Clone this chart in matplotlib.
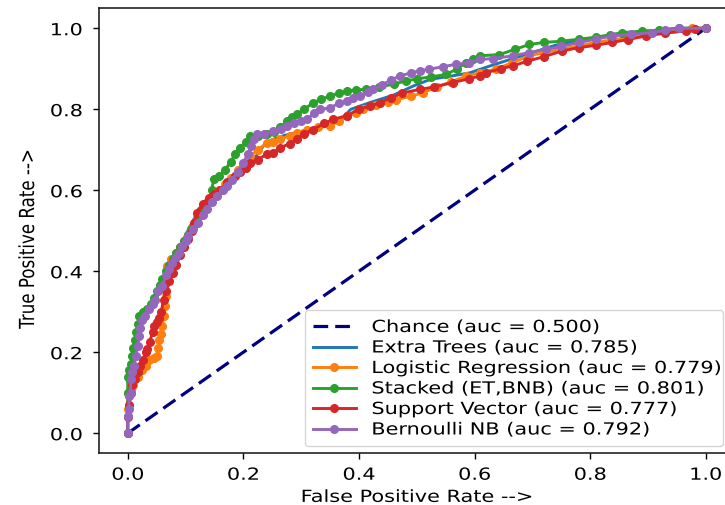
import matplotlib
matplotlib.use("Agg")
import matplotlib.pyplot as plt
from matplotlib.patheffects import AbstractPathEffect
from matplotlib.transforms import Affine2D

# ---------------- data ----------------
chance_fpr = [0.0, 1.0]
chance_tpr = [0.0, 1.0]

et_fpr = [0, 0, 0.003, 0.006, 0.01, 0.015, 0.022, 0.03, 0.04, 0.05, 0.058, 0.066, 0.075, 0.085, 0.095, 0.1,
          0.108, 0.115, 0.122, 0.135, 0.15, 0.16, 0.172, 0.19, 0.207, 0.22, 0.235, 0.25, 0.27, 0.3, 0.33, 0.355,
          0.368, 0.386, 0.42, 0.46, 0.495, 0.524, 0.56, 0.592, 0.627, 0.666, 0.7, 0.74, 0.781, 0.82, 0.86, 0.9,
          0.95, 1.0]
et_tpr = [0, 0.08, 0.12, 0.16, 0.2, 0.24, 0.27, 0.29, 0.31, 0.335, 0.36, 0.39, 0.42, 0.445, 0.47, 0.49,
          0.51, 0.53, 0.553, 0.57, 0.59, 0.6, 0.611, 0.635, 0.652, 0.68, 0.71, 0.725, 0.735, 0.745, 0.755, 0.765,
          0.773, 0.8, 0.817, 0.835, 0.858, 0.874, 0.882, 0.89, 0.907, 0.925, 0.94, 0.958, 0.97, 0.978, 0.986, 0.993,
          1.0, 1.0]

lr_fpr = [0, 0, 0, 0.005, 0.01, 0.018, 0.025, 0.031, 0.036, 0.045, 0.051, 0.053, 0.054, 0.057, 0.06, 0.062,
          0.064, 0.066, 0.067, 0.068, 0.075, 0.083, 0.09, 0.098, 0.105, 0.112, 0.12, 0.128, 0.138, 0.148, 0.158,
          0.168, 0.178, 0.19, 0.2, 0.212, 0.225, 0.241, 0.252, 0.264, 0.28, 0.293, 0.31, 0.33, 0.35, 0.365, 0.379,
          0.395, 0.407, 0.43, 0.45, 0.465, 0.49, 0.511, 0.535, 0.56, 0.586, 0.609, 0.637, 0.665, 0.695, 0.72,
          0.75, 0.781, 0.81, 0.84, 0.867, 0.9, 0.931, 0.976, 1.0]
lr_tpr = [0, 0.06, 0.1, 0.11, 0.12, 0.14, 0.155, 0.165, 0.18, 0.185, 0.19, 0.21, 0.23, 0.245, 0.265, 0.29,
          0.314, 0.34, 0.37, 0.413, 0.43, 0.445, 0.46, 0.475, 0.49, 0.51, 0.53, 0.55, 0.57, 0.585, 0.6,
          0.615, 0.63, 0.65, 0.665, 0.685, 0.7, 0.717, 0.72, 0.726, 0.735, 0.742, 0.75, 0.755, 0.759, 0.77, 0.784,
          0.79, 0.8, 0.81, 0.818, 0.824, 0.832, 0.841, 0.855, 0.868, 0.882, 0.89, 0.899, 0.915, 0.932, 0.94,
          0.948, 0.957, 0.965, 0.972, 0.977, 0.985, 0.993, 1.0, 1.0]

st_fpr = [0, 0, 0, 0.002, 0.005, 0.008, 0.01, 0.012, 0.015, 0.018, 0.02, 0.026, 0.034, 0.04, 0.045, 0.05,
          0.055, 0.06, 0.066, 0.072, 0.078, 0.084, 0.09, 0.097, 0.104, 0.11, 0.118, 0.125, 0.132, 0.14, 0.145,
          0.149, 0.158, 0.168, 0.178, 0.186, 0.195, 0.205, 0.212, 0.225, 0.241, 0.253, 0.264, 0.275, 0.285,
          0.293, 0.305, 0.321, 0.335, 0.35, 0.365, 0.379, 0.395, 0.413, 0.435, 0.46, 0.482, 0.5, 0.525, 0.551,
          0.57, 0.585, 0.598, 0.609, 0.643, 0.67, 0.695, 0.72, 0.75, 0.781, 0.81, 0.835, 0.855, 0.89, 0.92,
          0.953, 1.0]
st_tpr = [0, 0.1, 0.14, 0.155, 0.17, 0.19, 0.21, 0.23, 0.25, 0.27, 0.29, 0.3, 0.306, 0.32, 0.335, 0.35,
          0.365, 0.38, 0.4, 0.415, 0.43, 0.445, 0.46, 0.475, 0.49, 0.505, 0.52, 0.54, 0.555, 0.575, 0.6,
          0.627, 0.635, 0.65, 0.67, 0.69, 0.705, 0.72, 0.734, 0.735, 0.738, 0.745, 0.755, 0.77, 0.78,
          0.788, 0.8, 0.816, 0.825, 0.832, 0.84, 0.845, 0.848, 0.849, 0.855, 0.862, 0.87, 0.875, 0.88, 0.886,
          0.9, 0.915, 0.925, 0.932, 0.935, 0.948, 0.96, 0.965, 0.968, 0.973, 0.978, 0.984, 0.989, 0.993, 0.995,
          1.0, 1.0]

sv_fpr = [0, 0, 0.003, 0.005, 0.008, 0.012, 0.017, 0.022, 0.027, 0.031, 0.034, 0.038, 0.043, 0.045, 0.05,
          0.054, 0.058, 0.062, 0.066, 0.072, 0.078, 0.084, 0.091, 0.098, 0.105, 0.112, 0.115, 0.12, 0.13, 0.14,
          0.15, 0.16, 0.172, 0.185, 0.195, 0.205, 0.212, 0.225, 0.241, 0.252, 0.264, 0.28, 0.293, 0.305, 0.321,
          0.34, 0.355, 0.379, 0.4, 0.42, 0.436, 0.455, 0.475, 0.505, 0.53, 0.562, 0.59, 0.609, 0.62, 0.645,
          0.666, 0.69, 0.72, 0.752, 0.78, 0.81, 0.838, 0.865, 0.896, 0.93, 0.965, 0.982, 1.0]
sv_tpr = [0, 0.04, 0.07, 0.1, 0.12, 0.135, 0.15, 0.165, 0.18, 0.2, 0.207, 0.225, 0.25, 0.265, 0.275,
          0.285, 0.3, 0.33, 0.35, 0.375, 0.395, 0.415, 0.44, 0.46, 0.48, 0.5, 0.52, 0.545, 0.565, 0.58,
          0.59, 0.6, 0.62, 0.635, 0.645, 0.655, 0.668, 0.675, 0.69, 0.693, 0.705, 0.715, 0.726, 0.74, 0.75,
          0.765, 0.775, 0.784, 0.8, 0.808, 0.816, 0.828, 0.84, 0.849, 0.855, 0.866, 0.875, 0.882, 0.89, 0.9,
          0.907, 0.918, 0.93, 0.944, 0.952, 0.958, 0.965, 0.972, 0.981, 0.988, 0.993, 0.998, 1.0]

nb_fpr = [0, 0, 0.002, 0.002, 0.005, 0.005, 0.008, 0.011, 0.014, 0.017, 0.02, 0.022, 0.025, 0.03, 0.037,
          0.043, 0.048, 0.053, 0.06, 0.066, 0.072, 0.077, 0.083, 0.088, 0.094, 0.1, 0.105, 0.113, 0.122, 0.13,
          0.137, 0.145, 0.155, 0.164, 0.172, 0.18, 0.19, 0.2, 0.208, 0.214, 0.218, 0.224, 0.235, 0.252, 0.265,
          0.275, 0.287, 0.3, 0.31, 0.322, 0.333, 0.35, 0.365, 0.379, 0.39, 0.402, 0.415, 0.425, 0.44, 0.455,
          0.471, 0.49, 0.505, 0.522, 0.545, 0.568, 0.59, 0.609, 0.632, 0.666, 0.695, 0.724, 0.75, 0.781, 0.81,
          0.838, 0.87, 0.907, 0.93, 0.953, 1.0]
nb_tpr = [0, 0.043, 0.06, 0.092, 0.1, 0.133, 0.15, 0.166, 0.19, 0.215, 0.24, 0.26, 0.28, 0.29, 0.306,
          0.318, 0.33, 0.35, 0.363, 0.39, 0.405, 0.42, 0.435, 0.446, 0.462, 0.475, 0.487, 0.505, 0.52, 0.54,
          0.553, 0.57, 0.585, 0.6, 0.611, 0.625, 0.645, 0.668, 0.69, 0.71, 0.726, 0.738, 0.74, 0.746, 0.752,
          0.759, 0.767, 0.772, 0.775, 0.79, 0.8, 0.803, 0.815, 0.821, 0.828, 0.833, 0.842, 0.849, 0.86, 0.872,
          0.882, 0.89, 0.895, 0.899, 0.905, 0.911, 0.915, 0.923, 0.925, 0.932, 0.94, 0.948, 0.955, 0.965, 0.973,
          0.981, 0.985, 0.989, 0.995, 1.0, 1.0]

labels = ["Chance (auc = 0.500)", "Extra Trees (auc = 0.785)", "Logistic Regression (auc = 0.779)",
          "Stacked (ET,BNB) (auc = 0.801)", "Support Vector (auc = 0.777)", "Bernoulli NB (auc = 0.792)"]
xticks = [0.0, 0.2, 0.4, 0.6, 0.8, 1.0]
yticks = [0.0, 0.2, 0.4, 0.6, 0.8, 1.0]
xlabel = "False Positive Rate -->"
ylabel = "True Positive Rate -->"


# ---------------- horizontally widened text (reference glyphs are stretched) ----------------
class HStretch(AbstractPathEffect):
    def __init__(self, sx=1.25, anchor="center"):
        super().__init__()
        self.sx = sx
        self.anchor = anchor

    def draw_path(self, renderer, gc, tpath, affine, rgbFace=None):
        ext = tpath.get_extents(affine)
        if self.anchor == "left":
            cx = ext.x0
        elif self.anchor == "right":
            cx = ext.x1
        else:
            cx = 0.5 * (ext.x0 + ext.x1)
        t = affine + Affine2D().translate(-cx, 0).scale(self.sx, 1.0).translate(cx, 0)
        renderer.draw_path(gc, tpath, t, rgbFace)


SX = 1.25
FS = 12

fig = plt.figure(figsize=(7.25, 5.06), dpi=100)
ax = fig.add_axes([0.1363, 0.1018, 0.8770, 0.8804])

lw = 2.1
ms = 11
ax.plot(chance_fpr, chance_tpr, color="navy", lw=2.3, linestyle=(0, (4.6, 2.2)), label=labels[0])
ax.plot(et_fpr, et_tpr, color="#1f77b4", lw=lw, label=labels[1])
ax.plot(lr_fpr, lr_tpr, color="#ff7f0e", lw=lw, marker=".", ms=ms, label=labels[2])
ax.plot(st_fpr, st_tpr, color="#2ca02c", lw=lw, marker=".", ms=ms, label=labels[3])
ax.plot(sv_fpr, sv_tpr, color="#d62728", lw=lw, marker=".", ms=ms, label=labels[4])
ax.plot(nb_fpr, nb_tpr, color="#9467bd", lw=lw, marker=".", ms=ms, label=labels[5])

ax.set_xlim(-0.05, 1.05)
ax.set_ylim(-0.05, 1.05)
ax.set_xticks(xticks)
ax.set_yticks(yticks)
ax.set_xticklabels([f"{v:.1f}" for v in xticks], fontsize=FS)
ax.set_yticklabels([f"{v:.1f}" for v in yticks], fontsize=FS)
ax.tick_params(axis="x", length=4.3, width=1.0, pad=4.5)
ax.tick_params(axis="y", length=4.3, width=1.0, pad=7.5)
for s in ax.spines.values():
    s.set_linewidth(1.1)
    s.set_color("#111111")

for lab in ax.get_xticklabels():
    lab.set_path_effects([HStretch(SX, "center")])
for lab in ax.get_yticklabels():
    lab.set_path_effects([HStretch(SX, "right")])

xl = ax.set_xlabel(xlabel, fontsize=FS, labelpad=3)
xl.set_path_effects([HStretch(SX, "center")])
yl = ax.set_ylabel(ylabel, fontsize=FS)
yl.set_path_effects([HStretch(SX, "center")])
ax.yaxis.set_label_coords(-0.098, 0.481)

# legend frame spans x = 305..723 px, bottom at 447 px
ax_left_px, ax_w_px = 98.8, 635.8
ax_bot_px, ax_h_px = 454.5, 445.5
x0 = (305 - ax_left_px) / ax_w_px
w = (723 - 305) / ax_w_px
y0 = (ax_bot_px - 447) / ax_h_px
leg = ax.legend(loc="lower left", bbox_to_anchor=(x0, y0, w, 0.3), mode="expand",
                borderaxespad=0.0, fontsize=FS, handlelength=2.6, handletextpad=0.95,
                labelspacing=0.15, borderpad=0.45, framealpha=0.8)
for t in leg.get_texts():
    t.set_path_effects([HStretch(SX, "left")])

fig.savefig("out.png", dpi=100)
